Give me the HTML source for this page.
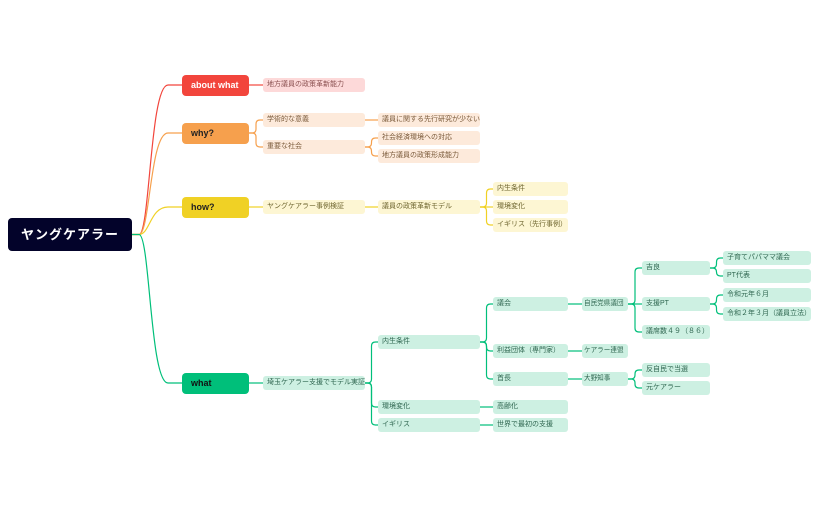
<!DOCTYPE html>
<html><head><meta charset="utf-8">
<style>
html,body{margin:0;padding:0;background:#fff;}
#c{position:relative;width:820px;height:508px;overflow:hidden;font-family:"Liberation Sans","Noto Sans CJK JP",sans-serif;}
.b{position:absolute;box-sizing:border-box;border-radius:3px;font-size:7px;line-height:14px;padding-left:4px;white-space:nowrap;overflow:hidden;}
.m{position:absolute;box-sizing:border-box;border-radius:4px;font-size:9px;font-weight:bold;line-height:21px;padding-left:9px;}
svg{position:absolute;left:0;top:0;}
</style></head><body><div id="c">
<svg id="s" width="820" height="508"></svg>
<div style="position:absolute;left:8px;top:218px;width:124px;height:33px;background:#03032a;border-radius:4px;color:#fff;font-weight:bold;font-size:13px;line-height:33px;text-align:center;letter-spacing:1px;font-family:'Liberation Sans','Noto Sans CJK JP',sans-serif;">ヤングケアラー</div>
</div>
<script>
var C=document.getElementById('c'),S=document.getElementById('s');
var col={r:['#f2453c','#fdd9d9','#8a5050'],o:['#f6a04d','#fdeadb','#7a5a3a'],y:['#f0d125','#fdf6d3','#6f6630'],g:['#00bf7a','#cdf0e2','#2f6650']};
function box(x,y,w,h,t,k,pad){var d=document.createElement('div');d.className='b';d.style.cssText='left:'+x+'px;top:'+y+'px;width:'+w+'px;height:'+h+'px;background:'+col[k][1]+';color:'+col[k][2]+(pad!=null?';padding-left:'+pad+'px;font-size:6.6px':'');d.textContent=t;C.appendChild(d);}
function mb(y,t,k,fc){var d=document.createElement('div');d.className='m';d.style.cssText='left:182px;top:'+y+'px;width:67px;height:21px;background:'+col[k][0]+';color:'+fc;d.textContent=t;C.appendChild(d);}
function path(d,k){var p=document.createElementNS('http://www.w3.org/2000/svg','path');p.setAttribute('d',d);p.setAttribute('fill','none');p.setAttribute('stroke',col[k][0]);p.setAttribute('stroke-width','1.2');S.appendChild(p);}
function el(x1,y1,x2,y2,k){
 var mx=(x1+x2)/2;if(Math.abs(y2-y1)<1){path('M'+x1+' '+y1+'H'+x2,k);return;}
 var r=Math.min(4,Math.abs(y2-y1)),s=y2>y1?1:-1;
 path('M'+x1+' '+y1+'H'+(mx-r)+'Q'+mx+' '+y1+' '+mx+' '+(y1+s*r)+'V'+(y2-s*r)+'Q'+mx+' '+y2+' '+(mx+r)+' '+y2+'H'+x2,k);}
function rc(y,k){path('M132 234.5H139C150 234.5 150 '+y+' 168 '+y+'H182',k);}
rc(85,'r');rc(133,'o');rc(207,'y');rc(383,'g');
mb(75,'about what','r','#fff');mb(123,'why?','o','#222');mb(197,'how?','y','#222');mb(373,'what','g','#111');
var L1=263,W1=102,L2=378,W2=102,L3=493,W3=75;
function n(x,y,w,t,k,px,py,pad){box(x,y,w,14,t,k,pad);if(px!=null)el(px,py,x,y+7,k);}
n(L1,78,W1,'地方議員の政策革新能力','r',249,85);
n(L1,113,W1,'学術的な意義','o',249,133);
n(L1,140,W1,'重要な社会','o',249,133);
n(L2,113,W2,'議員に関する先行研究が少ない','o',365,120);
n(L2,131,W2,'社会経済環境への対応','o',365,147);
n(L2,149,W2,'地方議員の政策形成能力','o',365,147);
n(L1,200,W1,'ヤングケアラー事例検証','y',249,207);
n(L2,200,W2,'議員の政策革新モデル','y',365,207);
n(L3,182,W3,'内生条件','y',480,207);
n(L3,200,W3,'環境変化','y',480,207);
n(L3,218,W3,'イギリス（先行事例）','y',480,207);
n(L1,376,W1,'埼玉ケアラー支援でモデル実証','g',249,383);
n(L2,335,W2,'内生条件','g',365,383);
n(L2,400,W2,'環境変化','g',365,383);
n(L2,418,W2,'イギリス','g',365,383);
n(L3,297,W3,'議会','g',480,342);
n(L3,344,W3,'利益団体（専門家）','g',480,342);
n(L3,372,W3,'首長','g',480,342);
n(L3,400,W3,'高齢化','g',480,407);
n(L3,418,W3,'世界で最初の支援','g',480,425);
var L4=582,W4=46;
n(L4,297,W4,'自民党県議団','g',568,304,2);
n(L4,344,W4,'ケアラー連盟','g',568,351,2);
n(L4,372,W4,'大野知事','g',568,379,2);
var L5=642,W5=68;
n(L5,261,W5,'吉良','g',628,304);
n(L5,297,W5,'支援PT','g',628,304);
n(L5,325,W5,'議席数４９（８６）','g',628,304);
n(L5,363,W5,'反自民で当選','g',628,379);
n(L5,381,W5,'元ケアラー','g',628,379);
var L6=723,W6=88;
n(L6,251,W6,'子育てパパママ議会','g',710,268);
n(L6,269,W6,'PT代表','g',710,268);
n(L6,288,W6,'令和元年６月','g',710,304);
n(L6,307,W6,'令和２年３月（議員立法）','g',710,304);
</script>
</body></html>
